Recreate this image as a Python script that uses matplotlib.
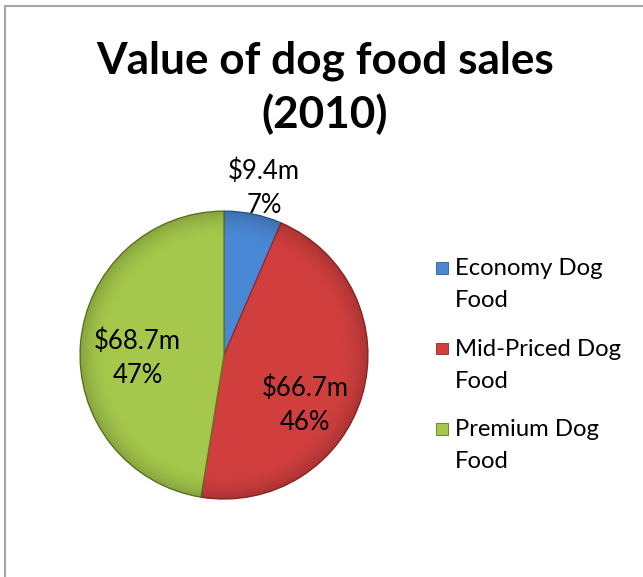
import numpy as np
import matplotlib
matplotlib.use('Agg')
import matplotlib.pyplot as plt
from matplotlib.patches import Rectangle, Circle

plt.rcParams['font.family'] = ['Lato', 'DejaVu Sans']

# sales by segment, $ million
segments = ['Economy Dog\nFood', 'Mid-Priced Dog\nFood', 'Premium Dog\nFood']
sales = [9.4, 66.7, 68.7]
shares = [7, 46, 47]  # percent, as printed on the labels
colors = ['#4A87D5', '#D03F3E', '#A5C84C']
edges = ['#2E5C94', '#8E2A28', '#5E7A22']

# where each data label sits, in pie units
label_pos = [(0.278, 1.155), (0.5625, -0.35), (-0.60, -0.02)]

fig = plt.figure(figsize=(6.43, 5.77), dpi=100)
fig.patch.set_facecolor('white')

# chart frame
fig.add_artist(Rectangle((4.5 / 643, -0.01), 1.0, 1.0 - 5.5 / 577 + 0.01,
                         transform=fig.transFigure, fill=False,
                         edgecolor='#a6a6a6', linewidth=1.5))

fig.text(0.505, 0.848, 'Value of dog food sales\n(2010)', ha='center', va='center',
         fontsize=31.8, fontweight='bold', linespacing=1.36)

ax = fig.add_axes([0.1244, 0.1351, 0.4479, 0.4991])
wedges, _ = ax.pie(sales, colors=colors, startangle=90, counterclock=False,
                   radius=1.0, wedgeprops=dict(linewidth=0.9))
for w, ec in zip(wedges, edges):
    w.set_edgecolor(ec)

# soft darkening toward the rim
n = 300
g = np.linspace(-1, 1, n)
xx, yy = np.meshgrid(g, g)
rr = np.sqrt(xx ** 2 + yy ** 2)
shade = np.zeros((n, n, 4))
shade[..., 3] = np.clip((rr - 0.8) / 0.2, 0, 1) ** 2 * 0.18
im = ax.imshow(shade, extent=(-1, 1, -1, 1), origin='lower', zorder=2)
im.set_clip_path(Circle((0, 0), 1.0, transform=ax.transData))

ax.set_xlim(-1, 1)
ax.set_ylim(-1, 1)
ax.set_aspect('equal')
ax.axis('off')

for v, p, (x, y) in zip(sales, shares, label_pos):
    ax.text(x, y, f'${v}m\n{p}%', ha='center', va='center',
            fontsize=18.5, linespacing=1.45, color='black', zorder=3)

# legend: square marker beside the first line of each entry
for i, (seg, c, ec) in enumerate(zip(segments, colors, edges)):
    yc = 1 - (268 + 80.5 * i) / 577
    fig.add_artist(Rectangle((436 / 643, yc - 5.5 / 577), 11.5 / 643, 11.5 / 577,
                             transform=fig.transFigure, facecolor=c,
                             edgecolor=ec, linewidth=0.6))
    fig.text(455 / 643, yc + 10 / 577, seg, ha='left', va='top',
             fontsize=17.2, linespacing=1.65)

fig.savefig('out.png', dpi=100)
